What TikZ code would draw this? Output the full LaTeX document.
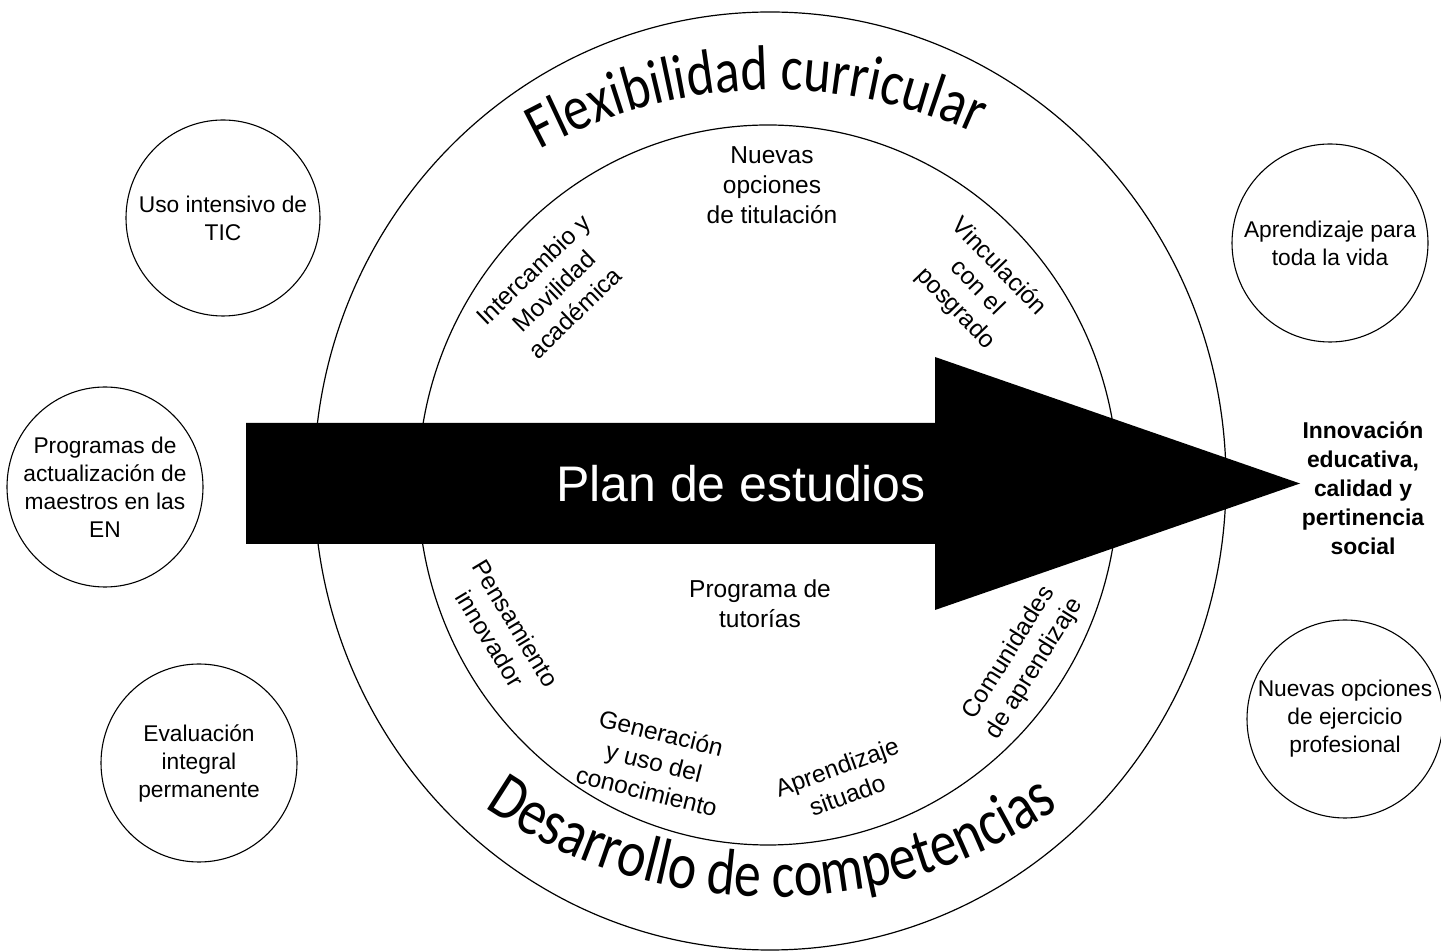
\documentclass[tikz,border=0pt]{standalone}
\usepackage{fontspec}
\usepackage{graphicx}
\setmainfont{Liberation Sans}
\newfontfamily\carlitofont{Carlito}
\newcommand\tallchar[1]{\scalebox{1}[1.22]{#1}}
\usetikzlibrary{decorations.text,shapes.geometric}
\begin{document}
\begin{tikzpicture}[x=1pt,y=1pt,
  every node/.style={inner sep=0pt},
  ring/.style={draw=black, line width=1.2pt},
  bub/.style={ellipse, draw=black, line width=1.1pt},
  bubtxt/.style={align=center, font=\fontsize{22.75}{28}\selectfont},
  intxt/.style={align=center, font=\fontsize{24.5}{30}\selectfont},
  curved/.style 2 args={decorate, decoration={text effects along path, text={#2}, text align=center,
    text effects/.cd, text along path, character command=\tallchar,
    every character/.style={font=\carlitofont\fontsize{#1}{60}\selectfont, inner sep=0pt}}}
]
\useasboundingbox (0,0) rectangle (1441,951);
\fill[white] (0,0) rectangle (1441,951);

% rings
\node[ellipse, ring, minimum width=912pt, minimum height=938pt] (outer) at (770,470) {};
\node[ellipse, ring, minimum width=700pt, minimum height=720pt] (inner) at (768,466) {};

% curved titles
\path[curved={52}{Flexibilidad curricular}]
  (773,374) ++(149:487) arc[start angle=149, end angle=35, radius=487];
\path[curved={54}{Desarrollo de competencias}]
  (772,561) ++(211:507) arc[start angle=211, end angle=329, radius=507];

% inner texts
\node[intxt] (titul) at (772,766) {Nuevas\\opciones\\de titulación};
\node[intxt, rotate=44] (movil) at (554,660) {Intercambio y\\Movilidad\\académica};
\node[intxt, rotate=-46] (vinc) at (977,663) {Vinculación\\con el\\posgrado};
\node[intxt, rotate=-59] (pens) at (503,320) {Pensamiento\\innovador};
\node[intxt, rotate=-14] (gener) at (654,189) {Generación\\y uso del\\conocimiento};
\node[intxt, rotate=20] (situ) at (842,170) {Aprendizaje\\situado};
\node[intxt, rotate=58] (comun) at (1022,290) {Comunidades\\de aprendizaje};
\node[intxt] (tutor) at (760,347) {Programa de\\tutorías};

% arrow
\fill[black] (246,407) -- (935,407) -- (935,341) -- (1300,467.5) -- (935,594) -- (935,528) -- (246,528) -- cycle;
\node[text=white, font=\fontsize{50}{60}\selectfont, anchor=base] (plan) at (741,449) {Plan de estudios};

% outer bubbles
\node[bub, minimum width=194pt, minimum height=196pt] (tic) at (223,733) {};
\node[bubtxt] (tictxt) at (tic) {Uso intensivo de\\TIC};
\node[bub, minimum width=196pt, minimum height=200pt] (prog) at (105,464) {};
\node[bubtxt] (progtxt) at (prog) {Programas de\\actualización de\\maestros en las\\EN};
\node[bub, minimum width=196pt, minimum height=198pt] (eval) at (199,188) {};
\node[bubtxt] (evaltxt) at (eval) {Evaluación\\integral\\permanente};
\node[bub, minimum width=196pt, minimum height=198pt] (vida) at (1330,708) {};
\node[bubtxt] (vidatxt) at (vida) {Aprendizaje para\\toda la vida};
\node[bub, minimum width=196pt, minimum height=198pt] (ejer) at (1345,232) {};
\node[bubtxt] (ejertxt) at (ejer) {Nuevas opciones\\de ejercicio\\profesional};

\node[align=center, font=\bfseries\fontsize{22.9}{29}\selectfont] (innov) at (1363,463) {Innovación\\educativa,\\calidad y\\pertinencia\\social};
\end{tikzpicture}
\end{document}
